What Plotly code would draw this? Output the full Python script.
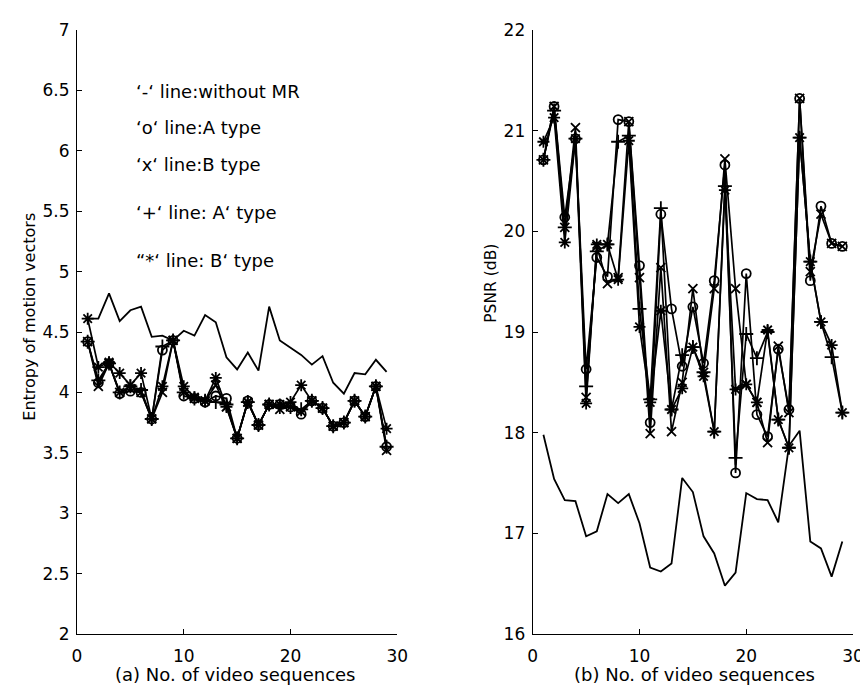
import plotly.graph_objects as go

x_seq = list(range(1, 30))

# Left panel: entropy of motion vectors
ent_noMR = [4.61, 4.61, 4.82, 4.59, 4.68, 4.71, 4.46, 4.47, 4.43, 4.51, 4.47, 4.64, 4.58, 4.29, 4.19,
            4.33, 4.18, 4.71, 4.43, 4.37, 4.31, 4.23, 4.30, 4.08, 3.99, 4.16, 4.15, 4.27, 4.17]
ent_A = [4.42, 4.08, 4.24, 3.99, 4.01, 4.00, 3.78, 4.35, 4.43, 3.97, 3.95, 3.92, 3.97, 3.95, 3.62,
         3.93, 3.73, 3.90, 3.90, 3.88, 3.82, 3.93, 3.87, 3.72, 3.75, 3.93, 3.80, 4.05, 3.55]
ent_B = [4.42, 4.05, 4.24, 4.00, 4.03, 4.00, 3.78, 4.00, 4.43, 4.00, 3.95, 3.93, 4.06, 3.88, 3.62,
         3.92, 3.73, 3.90, 3.86, 3.88, 3.84, 3.93, 3.87, 3.72, 3.75, 3.93, 3.80, 4.05, 3.52]
ent_Ap = [4.42, 4.10, 4.24, 4.00, 4.05, 4.02, 3.78, 4.38, 4.43, 4.00, 3.95, 3.93, 3.92, 3.90, 3.62,
          3.92, 3.73, 3.90, 3.88, 3.88, 3.86, 3.93, 3.87, 3.72, 3.75, 3.93, 3.80, 4.05, 3.55]
ent_Bp = [4.61, 4.21, 4.25, 4.16, 4.06, 4.16, 3.78, 4.05, 4.43, 4.05, 3.96, 3.93, 4.12, 3.88, 3.62,
          3.92, 3.73, 3.90, 3.90, 3.92, 4.06, 3.93, 3.87, 3.72, 3.75, 3.93, 3.80, 4.05, 3.70]

# Right panel: PSNR (dB)
psnr_noMR = [17.98, 17.54, 17.33, 17.32, 16.97, 17.02, 17.39, 17.30, 17.39, 17.10, 16.66, 16.62, 16.70, 17.55, 17.41,
             16.97, 16.80, 16.48, 16.61, 17.40, 17.34, 17.33, 17.11, 17.87, 18.02, 16.92, 16.85, 16.57, 16.92]
psnr_A = [20.71, 21.24, 20.14, 20.92, 18.63, 19.74, 19.55, 21.11, 21.09, 19.66, 18.10, 20.17, 19.23, 18.66, 19.25,
          18.69, 19.51, 20.66, 17.60, 19.58, 18.18, 17.96, 18.83, 18.23, 21.32, 19.51, 20.25, 19.88, 19.85]
psnr_B = [20.71, 21.24, 20.04, 21.03, 18.35, 19.85, 19.48, 19.54, 21.09, 19.54, 17.99, 19.64, 18.01, 18.50, 19.43,
          18.60, 19.43, 20.72, 19.43, 18.48, 18.30, 17.90, 18.86, 18.20, 21.32, 19.60, 20.17, 19.88, 19.85]
psnr_Ap = [20.71, 21.20, 20.04, 20.92, 18.46, 19.80, 19.87, 20.89, 20.95, 19.23, 18.33, 20.23, 18.23, 18.77, 18.85,
           18.60, 18.01, 20.45, 17.75, 18.98, 18.74, 19.00, 18.13, 17.85, 20.93, 19.70, 19.10, 18.75, 18.20]
psnr_Bp = [20.89, 21.13, 19.89, 20.92, 18.29, 19.87, 19.87, 19.52, 20.90, 19.05, 18.30, 19.21, 18.23, 18.44, 18.85,
           18.56, 18.01, 20.41, 18.43, 18.48, 18.30, 19.02, 18.13, 17.85, 20.93, 19.70, 19.10, 18.87, 18.20]

legend_lines = ["‘-‘ line:without MR", "‘o‘ line:A type", "‘x‘ line:B type",
                "‘+‘ line: A‘ type", "“*‘ line: B‘ type"]
legend_y = [6.49, 6.19, 5.89, 5.49, 5.09]

left_ticks = [2, 2.5, 3, 3.5, 4, 4.5, 5, 5.5, 6, 6.5, 7]
right_ticks = [16, 17, 18, 19, 20, 21, 22]
x_ticks = [0, 10, 20, 30]

FONT = "DejaVu Sans, Arial, sans-serif"
fig = go.Figure()

markers = [("circle-open", 9), ("x-thin-open", 9), ("cross-thin-open", 10), ("asterisk-open", 10)]

def add_panel(xa, ya, nomr, series):
    fig.add_trace(go.Scatter(x=x_seq, y=nomr, mode="lines", xaxis=xa, yaxis=ya,
                             line=dict(color="black", width=1.8), showlegend=False))
    for vals, (sym, sz) in zip(series, markers):
        fig.add_trace(go.Scatter(x=x_seq, y=vals, mode="lines+markers", xaxis=xa, yaxis=ya,
                                 line=dict(color="black", width=1.7),
                                 marker=dict(symbol=sym, size=sz, color="black",
                                             line=dict(color="black", width=1.8)),
                                 showlegend=False))

add_panel("x", "y", ent_noMR, [ent_A, ent_B, ent_Ap, ent_Bp])
add_panel("x2", "y2", psnr_noMR, [psnr_A, psnr_B, psnr_Ap, psnr_Bp])

for txt, yy in zip(legend_lines, legend_y):
    fig.add_annotation(x=5.5, y=yy, xref="x", yref="y", text=txt, showarrow=False,
                       xanchor="left", yanchor="middle", xshift=-2,
                       font=dict(size=18, color="black", family=FONT))

# axis titles
fig.add_annotation(x=0.2038, y=-0.0672, xref="paper", yref="paper", text="(a) No. of video sequences",
                   showarrow=False, xanchor="center", yanchor="middle", font=dict(size=18, family=FONT))
fig.add_annotation(x=0.7962, y=-0.0672, xref="paper", yref="paper", text="(b) No. of video sequences",
                   showarrow=False, xanchor="center", yanchor="middle", font=dict(size=18, family=FONT))
fig.add_annotation(x=-0.0611, y=0.5246, xref="paper", yref="paper", text="Entropy of motion vectors",
                   showarrow=False, xanchor="center", yanchor="middle", textangle=-90,
                   font=dict(size=16, family=FONT))
fig.add_annotation(x=0.5338, y=0.5803, xref="paper", yref="paper", text="PSNR (dB)",
                   showarrow=False, xanchor="center", yanchor="middle", textangle=-90,
                   font=dict(size=15.5, family=FONT))

axis_common = dict(showline=True, linecolor="black", linewidth=1.2, ticks="inside", ticklen=5,
                   tickcolor="black", tickwidth=1.2, showgrid=False, zeroline=False, mirror=False,
                   tickfont=dict(size=17, color="black", family=FONT))

fig.update_layout(
    width=868, height=685,
    paper_bgcolor="white", plot_bgcolor="white",
    margin=dict(l=69, r=14, t=16, b=59),
    font=dict(family=FONT, color="black", size=17),
    xaxis=dict(domain=[0, 0.4127], range=[0, 30], tickvals=x_ticks, anchor="y",
               ticklabelstandoff=6, **axis_common),
    yaxis=dict(range=[2, 7], tickvals=left_ticks, anchor="x", ticklabelstandoff=3, **axis_common),
    xaxis2=dict(domain=[0.5873, 1], range=[0, 30], tickvals=x_ticks, anchor="y2",
                ticklabelstandoff=6, **axis_common),
    yaxis2=dict(range=[16, 22], tickvals=right_ticks, anchor="x2", ticklabelstandoff=3, **axis_common),
)

fig.write_html("out.html")
